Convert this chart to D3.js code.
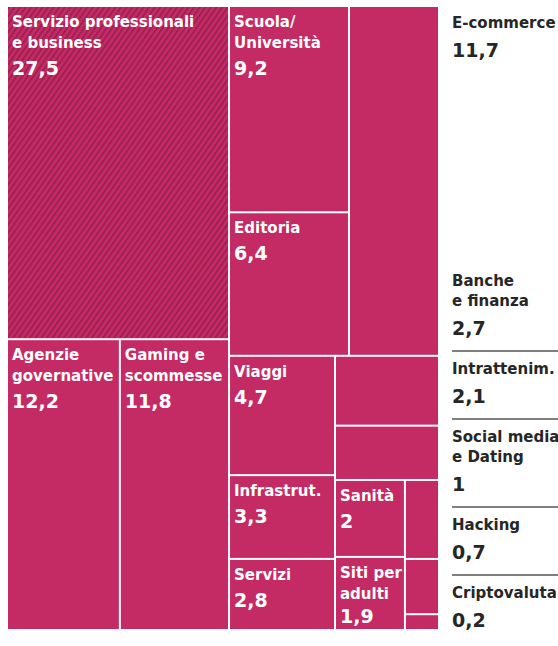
<!DOCTYPE html>
<html>
<head>
<meta charset="utf-8">
<script src="https://cdn.jsdelivr.net/npm/d3@7"></script>
<style>
  html, body { margin: 0; padding: 0; background: #fff; }
  svg { display: block; }
  text { font-family: "DejaVu Sans", sans-serif; font-weight: bold; }
</style>
</head>
<body>
<svg id="chart" width="558" height="646"></svg>
<script>
// Sectors targeted, share of cases (%)
const categories = [
  "Servizio professionali e business", "Agenzie governative", "Gaming e scommesse",
  "E-commerce", "Scuola/Università", "Editoria", "Viaggi", "Infrastrut.", "Servizi",
  "Banche e finanza", "Intrattenim.", "Sanità", "Siti per adulti",
  "Social media e Dating", "Hacking", "Criptovaluta"
];
const values = [27.5, 12.2, 11.8, 11.7, 9.2, 6.4, 4.7, 3.3, 2.8, 2.7, 2.1, 2, 1.9, 1, 0.7, 0.2];
const labelLines = [
  ["Servizio professionali", "e business"], ["Agenzie", "governative"], ["Gaming e", "scommesse"],
  ["E-commerce"], ["Scuola/", "Università"], ["Editoria"], ["Viaggi"], ["Infrastrut."], ["Servizi"],
  ["Banche", "e finanza"], ["Intrattenim."], ["Sanità"], ["Siti per", "adulti"],
  ["Social media", "e Dating"], ["Hacking"], ["Criptovaluta"]
];
// Sectors whose label sits in the side column instead of inside the box
const outsideLabels = ["E-commerce", "Banche e finanza", "Intrattenim.", "Social media e Dating", "Hacking", "Criptovaluta"];
const hatched = ["Servizio professionali e business"];

// Nesting of the boxes: "x" splits side by side, "y" stacks top to bottom
const nesting = ["x", [
  ["y", ["Servizio professionali e business", ["x", ["Agenzie governative", "Gaming e scommesse"]]]],
  ["y", [
    ["x", [["y", ["Scuola/Università", "Editoria"]], "E-commerce"]],
    ["x", [
      ["y", ["Viaggi", "Infrastrut.", "Servizi"]],
      ["y", ["Banche e finanza", "Intrattenim.",
        ["x", [["y", ["Sanità", "Siti per adulti"]], ["y", ["Social media e Dating", "Hacking", "Criptovaluta"]]]]
      ]]
    ]]
  ]]
]];

const fill = "#c42a63";
const stripe = "#961e4e";
const ink = "#262626";

const fmt = d3.formatLocale({ decimal: ",", thousands: ".", grouping: [3], currency: ["", " €"] }).format("~g");

function build(n) {
  if (typeof n === "string") {
    const i = categories.indexOf(n);
    return { name: n, value: values[i], lines: labelLines[i] };
  }
  return { split: n[0], children: n[1].map(build) };
}

const root = d3.hierarchy(build(nesting)).sum(d => d.value || 0);

const box = { left: 8, top: 7, width: 430, height: 622 };

d3.treemap()
  .size([box.width, box.height])
  .paddingInner(2)
  .tile((node, x0, y0, x1, y1) =>
    (node.data.split === "x" ? d3.treemapDice : d3.treemapSlice)(node, x0, y0, x1, y1))
  (root);

const svg = d3.select("#chart");

const defs = svg.append("defs");
const pat = defs.append("pattern")
  .attr("id", "hatch")
  .attr("patternUnits", "userSpaceOnUse")
  .attr("width", 4.6).attr("height", 10)
  .attr("patternTransform", "rotate(35)");
pat.append("rect").attr("width", 4.6).attr("height", 10).attr("fill", fill);
pat.append("rect").attr("width", 1.5).attr("height", 10).attr("fill", stripe);

const g = svg.append("g").attr("transform", `translate(${box.left},${box.top})`);

const leaves = root.leaves();

const cell = g.selectAll("g.cell")
  .data(leaves)
  .join("g")
  .attr("class", "cell")
  .attr("transform", d => `translate(${d.x0},${d.y0})`);

cell.append("rect")
  .attr("width", d => d.x1 - d.x0)
  .attr("height", d => d.y1 - d.y0)
  .attr("fill", d => hatched.includes(d.data.name) ? "url(#hatch)" : fill);

// Labels inside the boxes
const inside = cell.filter(d => !outsideLabels.includes(d.data.name));
inside.each(function (d) {
  const sel = d3.select(this);
  const h = d.y1 - d.y0;
  let y = 20;
  d.data.lines.forEach((line, k) => {
    if (k > 0) y += 21;
    sel.append("text")
      .attr("x", 4).attr("y", y)
      .attr("fill", "#fff")
      .attr("font-size", 15)
      .text(line);
  });
  const vy = Math.min(y + 27, h - 6);
  sel.append("text")
    .attr("x", 4).attr("y", vy)
    .attr("fill", "#fff")
    .attr("font-size", 19)
    .text(fmt(d.data.value));
});

// Side column of labels for the small boxes
const legendX = 452;
const legendRight = 558;
const byName = new Map(leaves.map(d => [d.data.name, d]));
const legend = svg.append("g");

function drawItem(d, b0) {
  let y = b0;
  d.data.lines.forEach((line, k) => {
    if (k > 0) y += 20;
    legend.append("text")
      .attr("x", legendX).attr("y", y)
      .attr("fill", ink)
      .attr("font-size", 15)
      .text(line);
  });
  legend.append("text")
    .attr("x", legendX).attr("y", y + 29)
    .attr("fill", ink)
    .attr("font-size", 19)
    .text(fmt(d.data.value));
}

// first item level with the top of its box
const first = byName.get(outsideLabels[0]);
drawItem(first, box.top + first.y0 + 21);

// remaining items stacked up from the bottom of the treemap
const stack = outsideLabels.slice(1).map(n => byName.get(n));
let vb = box.top + box.height - 2;
for (let i = stack.length - 1; i >= 0; i--) {
  const d = stack[i];
  const b0 = vb - 29 - 20 * (d.data.lines.length - 1);
  drawItem(d, b0);
  const sep = b0 - 23;
  if (i > 0) {
    legend.append("line")
      .attr("x1", legendX).attr("x2", legendRight)
      .attr("y1", sep).attr("y2", sep)
      .attr("stroke", "#555").attr("stroke-width", 1.5);
  }
  vb = sep - 16;
}
</script>
</body>
</html>
